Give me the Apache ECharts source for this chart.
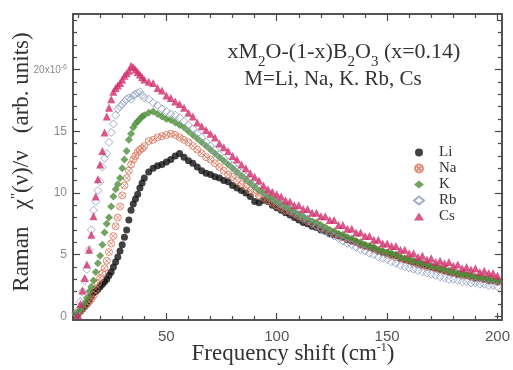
<!DOCTYPE html>
<html>
<head>
<meta charset="utf-8">
<script src="https://cdn.jsdelivr.net/npm/echarts@6/dist/echarts.min.js"></script>
<style>
  html, body { margin: 0; padding: 0; background: #fff; }
  #chart { width: 513px; height: 370px; }
</style>
</head>
<body>
<div id="chart"></div>
<script>
// frequency shift (cm-1): step 1 up to 40, then step 2
const freq = [
  9, 10, 11, 12, 13, 14, 15, 16, 17, 18, 19, 20, 21, 22, 23, 24, 25, 26, 27, 28, 29, 30, 31, 32, 33, 34, 35, 36, 37, 38, 39, 40,
  42, 44, 46, 48, 50, 52, 54, 56, 58, 60, 62, 64, 66, 68, 70, 72, 74, 76, 78, 80, 82, 84, 86, 88, 90, 92, 94, 96, 98, 100,
  102, 104, 106, 108, 110, 112, 114, 116, 118, 120, 122, 124, 126, 128, 130, 132, 134, 136, 138, 140,
  142, 144, 146, 148, 150, 152, 154, 156, 158, 160, 162, 164, 166, 168, 170, 172, 174, 176, 178, 180,
  182, 184, 186, 188, 190, 192, 194, 196, 198, 200
];

// Raman chi''(v)/v, units of 1e-6
const li = [
  0.1, 0.2, 0.4, 0.6, 0.8, 1.0, 1.3, 1.6, 1.9, 2.0, 2.2, 2.4, 2.6, 2.8, 3.0, 3.3, 3.6, 4.0, 4.4, 4.8, 5.3, 5.8, 6.4, 7.0, 7.8, 8.6, 9.1, 9.5, 9.9, 10.4, 10.8, 11.2,
  11.7, 12.0, 12.2, 12.3, 12.5, 12.7, 13.0, 13.2, 12.9, 12.6, 12.4, 12.1, 11.8, 11.6, 11.5, 11.3, 11.2, 11.0, 10.9, 10.6, 10.4, 10.2, 10.0, 9.7, 9.3, 9.2, 9.4, 9.3, 9.0, 8.8,
  8.6, 8.4, 8.2, 8.0, 7.8, 7.6, 7.5, 7.3, 7.2, 7.0, 6.9, 6.7, 6.6, 6.5, 6.4, 6.2, 6.1, 6.0, 5.8, 5.7,
  5.6, 5.5, 5.3, 5.2, 5.1, 5.0, 4.9, 4.7, 4.6, 4.5, 4.4, 4.3, 4.2, 4.1, 4.0, 3.9, 3.8, 3.7, 3.6, 3.5,
  3.4, 3.4, 3.3, 3.2, 3.1, 3.1, 3.0, 2.9, 2.9, 2.8
];
const na = [
  0.2, 0.3, 0.4, 0.6, 0.8, 1.0, 1.2, 1.4, 1.7, 2.2, 2.7, 3.1, 3.5, 3.9, 4.5, 5.2, 5.9, 6.5, 7.3, 8.0, 8.9, 9.8, 10.6, 11.2, 11.8, 12.3, 12.7, 13.0, 13.3, 13.5, 13.6, 13.8,
  14.2, 14.3, 14.5, 14.6, 14.7, 14.8, 14.7, 14.5, 14.3, 14.1, 13.8, 13.5, 13.2, 12.9, 12.7, 12.4, 12.1, 11.8, 11.5, 11.3, 11.0, 10.7, 10.5, 10.2, 10.0, 9.8, 9.6, 9.4, 9.2, 9.0,
  8.8, 8.6, 8.5, 8.3, 8.1, 7.9, 7.7, 7.6, 7.4, 7.2, 7.1, 6.9, 6.7, 6.6, 6.4, 6.3, 6.1, 6.0, 5.8, 5.7,
  5.6, 5.4, 5.3, 5.2, 5.0, 4.9, 4.8, 4.7, 4.6, 4.5, 4.3, 4.2, 4.1, 4.0, 4.0, 3.9, 3.8, 3.7, 3.6, 3.5,
  3.4, 3.3, 3.3, 3.2, 3.1, 3.1, 3.0, 2.9, 2.9, 2.8
];
const k = [
  0.2, 0.3, 0.5, 0.8, 1.1, 1.5, 2.0, 2.4, 2.9, 3.6, 4.3, 4.9, 5.8, 6.8, 7.5, 8.0, 8.9, 9.7, 10.3, 10.7, 11.2, 12.0, 12.7, 13.4, 14.3, 14.8, 15.3, 15.6, 15.8, 16.0, 16.2, 16.3,
  16.5, 16.6, 16.4, 16.2, 16.0, 15.9, 15.7, 15.5, 15.3, 15.0, 14.7, 14.4, 14.1, 13.8, 13.5, 13.2, 12.9, 12.6, 12.3, 12.0, 11.7, 11.4, 11.1, 10.8, 10.5, 10.2, 10.0, 9.7, 9.5, 9.3,
  9.1, 8.9, 8.7, 8.5, 8.3, 8.1, 7.9, 7.7, 7.6, 7.4, 7.2, 7.0, 6.9, 6.7, 6.6, 6.4, 6.3, 6.1, 6.0, 5.8,
  5.7, 5.6, 5.4, 5.3, 5.2, 5.1, 5.0, 4.8, 4.7, 4.6, 4.5, 4.4, 4.3, 4.2, 4.1, 4.0, 3.9, 3.8, 3.7, 3.6,
  3.5, 3.4, 3.4, 3.3, 3.2, 3.1, 3.1, 3.0, 2.9, 2.9
];
const rb = [
  0.2, 0.5, 1.2, 2.0, 2.9, 3.8, 5.4, 7.0, 8.6, 9.3, 10.2, 10.9, 12.1, 12.8, 13.2, 14.1, 14.9, 15.6, 16.3, 16.8, 17.0, 17.2, 17.4, 17.6, 17.7, 17.6, 17.9, 18.0, 18.1, 18.2, 17.9, 17.7,
  17.6, 17.3, 17.1, 16.8, 16.6, 16.4, 16.3, 16.1, 15.8, 15.5, 15.2, 14.8, 14.5, 14.1, 13.8, 13.5, 13.1, 12.8, 12.5, 12.2, 11.9, 11.6, 11.3, 11.0, 10.7, 10.4, 10.1, 9.9, 9.6, 9.3,
  9.1, 8.9, 8.6, 8.4, 8.2, 8.0, 7.8, 7.5, 7.3, 7.1, 6.9, 6.7, 6.5, 6.3, 6.1, 5.9, 5.8, 5.6, 5.4, 5.3,
  5.1, 5.0, 4.8, 4.7, 4.6, 4.4, 4.3, 4.1, 4.0, 3.9, 3.8, 3.7, 3.6, 3.5, 3.4, 3.3, 3.2, 3.1, 3.0, 3.0,
  2.9, 2.8, 2.8, 2.7, 2.7, 2.6, 2.6, 2.5, 2.5, 2.4
];
const cs = [
  null, 0.1, 1.0, 2.1, 3.1, 4.2, 5.4, 6.6, 8.1, 9.7, 11.1, 12.3, 13.4, 14.9, 16.2, 16.9, 17.6, 18.2, 18.5, 18.7, 18.9, 19.2, 19.5, 19.7, 19.9, 20.3, 20.2, 20.0, 19.8, 19.6, 19.4, 19.2,
  19.0, 18.9, 18.5, 18.3, 17.9, 17.7, 17.4, 17.2, 16.9, 16.5, 16.2, 15.7, 15.4, 15.1, 14.8, 14.5, 14.0, 13.7, 13.4, 13.0, 12.7, 12.3, 12.0, 11.6, 11.3, 11.0, 10.6, 10.3, 10.1, 9.9,
  9.7, 9.4, 9.3, 9.0, 9.0, 8.7, 8.7, 8.4, 8.4, 8.1, 8.1, 7.8, 7.8, 7.4, 7.4, 7.1, 7.1, 6.8, 6.8, 6.5,
  6.5, 6.2, 6.2, 5.9, 5.9, 5.7, 5.7, 5.4, 5.4, 5.1, 5.1, 4.8, 4.9, 4.6, 4.7, 4.4, 4.5, 4.3, 4.4, 4.1,
  4.2, 3.9, 4.0, 3.8, 3.9, 3.6, 3.7, 3.5, 3.5, 3.3
];

const names = ['Li', 'Na', 'K', 'Rb', 'Cs'];
const xMajor = [50, 100, 150, 200];
const xMinor = [10, 20, 30, 40, 60, 70, 80, 90, 110, 120, 130, 140, 160, 170, 180, 190];
const yMajor = [0, 5, 10, 15, 20];
const yMinor = [1, 2, 3, 4, 6, 7, 8, 9, 11, 12, 13, 14, 16, 17, 18, 19, 21, 22, 23, 24];

const X_MIN = 7.7, X_MAX = 202;
const Y_MIN = -0.3, Y_MAX = 24.5;
const SERIF = 'Liberation Serif';
const SANS = 'Liberation Sans';
const AXIS_COLOR = '#4a4a4a';

const pts = arr => freq.map((f, i) => [f, arr[i]]).filter(p => p[1] !== null);

const mkX = (pos, ticks, len, label) => ({
  type: 'value', min: X_MIN, max: X_MAX, position: pos,
  axisLine: { show: true, onZero: false, lineStyle: { color: AXIS_COLOR, width: 1.5 } },
  axisTick: { show: true, inside: true, length: len, customValues: ticks, lineStyle: { color: AXIS_COLOR, width: 1.2 } },
  axisLabel: label ? {
    show: true, customValues: ticks, margin: 9,
    fontFamily: SANS, fontSize: 15, color: '#555'
  } : { show: false },
  splitLine: { show: false }
});
const mkY = (pos, ticks, len, label) => ({
  type: 'value', min: Y_MIN, max: Y_MAX, position: pos,
  axisLine: { show: true, onZero: false, lineStyle: { color: AXIS_COLOR, width: 1.5 } },
  axisTick: { show: true, inside: true, length: len, customValues: ticks, lineStyle: { color: AXIS_COLOR, width: 1.2 } },
  axisLabel: label ? {
    show: true, customValues: ticks, margin: 6,
    fontFamily: SANS, fontSize: 12, color: '#8a8a8a',
    formatter: v => v === 20 ? '{s|20x10}{p|-6}' : String(v),
    rich: {
      s: { fontFamily: SANS, fontSize: 10, color: '#8a8a8a', verticalAlign: 'bottom', lineHeight: 12 },
      p: { fontFamily: SANS, fontSize: 7, color: '#8a8a8a', verticalAlign: 'top', lineHeight: 8 }
    }
  } : { show: false },
  splitLine: { show: false }
});

const naSymbol = 'path://M0,10A10,10,0,1,1,20,10A10,10,0,1,1,0,10ZM3,3L17,17M17,3L3,17';

const series = [
  { name: 'Li', data: pts(li), symbol: 'circle', symbolSize: 7, itemStyle: { color: '#111' } },
  { name: 'Na', data: pts(na), symbol: naSymbol, symbolSize: 7, itemStyle: { color: 'rgba(255,255,255,0)', borderColor: '#d9735a', borderWidth: 1 } },
  { name: 'K', data: pts(k), symbol: 'diamond', symbolSize: 8, itemStyle: { color: '#4f8f3a' } },
  { name: 'Rb', data: pts(rb), symbol: 'diamond', symbolSize: 8, itemStyle: { color: 'rgba(255,255,255,0)', borderColor: '#8898c0', borderWidth: 1 } },
  { name: 'Cs', data: pts(cs), symbol: 'triangle', symbolSize: 8, itemStyle: { color: '#d22d6c' } }
].map(s => Object.assign({ type: 'scatter', xAxisIndex: 0, yAxisIndex: 0 }, s));

const chart = echarts.init(document.getElementById('chart'), null, { renderer: 'canvas' });
chart.setOption({
  animation: false,
  backgroundColor: '#fff',
  grid: { left: 73, right: 8, top: 14, bottom: 50, containLabel: false },
  xAxis: [
    mkX('bottom', xMajor, 7, true),
    mkX('bottom', xMinor, 4, false),
    mkX('top', xMajor, 7, false),
    mkX('top', xMinor, 4, false)
  ],
  yAxis: [
    mkY('left', yMajor, 7, true),
    mkY('left', yMinor, 4, false),
    mkY('right', yMajor, 7, false),
    mkY('right', yMinor, 4, false)
  ],
  legend: {
    data: names,
    orient: 'vertical',
    left: 408, top: 140,
    itemWidth: 10, itemHeight: 8, itemGap: 1,
    textStyle: { fontFamily: SERIF, fontSize: 15, color: '#333', lineHeight: 15, padding: [0, 0, 0, 10] }
  },
  graphic: [
    {
      type: 'text', x: 344, y: 54,
      style: {
        text: '{a|xM}{b|2}{a|O-(1-x)B}{b|2}{a|O}{b|3}{a| (x=0.14)}',
        align: 'center', verticalAlign: 'middle',
        rich: {
          a: { fontFamily: SERIF, fontSize: 22, fill: '#333', lineHeight: 26, verticalAlign: 'top' },
          b: { fontFamily: SERIF, fontSize: 15, fill: '#333', lineHeight: 14, padding: [14, 0, 0, 0], verticalAlign: 'top' }
        }
      }
    },
    {
      type: 'text', x: 333, y: 79,
      style: { text: 'M=Li, Na, K. Rb, Cs', align: 'center', verticalAlign: 'middle', font: '21px "Liberation Serif"', fill: '#333' }
    },
    {
      type: 'text', x: 293, y: 354,
      style: {
        text: '{a|Frequency shift (cm}{p|-1}{a|)}',
        align: 'center', verticalAlign: 'middle',
        rich: {
          a: { fontFamily: SERIF, fontSize: 23, fill: '#333', lineHeight: 24, verticalAlign: 'top' },
          p: { fontFamily: SERIF, fontSize: 12, fill: '#333', lineHeight: 12, verticalAlign: 'top' }
        }
      }
    },
    {
      type: 'text', x: 22, y: 162, rotation: Math.PI / 2,
      style: {
        text: '{a|Raman   χ}{p|"}{a|(ν)/ν   (arb. units)}',
        align: 'center', verticalAlign: 'middle',
        rich: {
          a: { fontFamily: SERIF, fontSize: 23, fill: '#333', lineHeight: 24, verticalAlign: 'top' },
          p: { fontFamily: SERIF, fontSize: 15, fill: '#333', lineHeight: 14, verticalAlign: 'top' }
        }
      }
    }
  ],
  series: series
});
</script>
</body>
</html>
